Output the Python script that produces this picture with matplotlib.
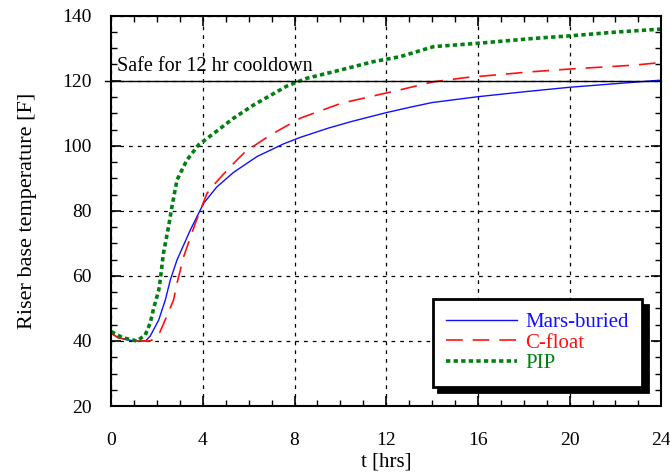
import numpy as np
import matplotlib
matplotlib.use("Agg")
import matplotlib.pyplot as plt

# tiempo (hrs) y temperatura (F)
t_mars = [0, 0.3, 0.7, 1.0, 1.5, 1.7, 2.07, 2.36, 2.58, 2.87, 3.45, 4.03, 4.6, 5.33,
          6.36, 7.52, 8.25, 9.5, 10.5, 12.0, 13.0, 14.0, 16.0, 18.0, 20.0, 22.0, 24.0]
T_mars = [42.4, 41.0, 40.4, 40.0, 40.0, 41.5, 46.4, 52.6, 58.8, 64.9, 74.1, 82.3, 87.3, 91.8,
          96.7, 100.6, 102.6, 105.5, 107.5, 110.2, 111.8, 113.3, 115.1, 116.6, 118.0, 119.1, 120.2]

t_cf = [0, 0.3, 0.7, 1.0, 1.66, 1.9, 2.11, 2.43, 2.72, 2.87, 3.16, 3.67, 4.18, 4.54, 5.2,
        5.85, 6.94, 8.25, 10.0, 11.6, 12.6, 14.07, 15.5, 18.4, 20.0, 22.8, 24.0]
T_cf = [42.4, 41.0, 40.4, 40.0, 40.0, 40.6, 42.5, 47.7, 52.6, 57.7, 65.9, 76.2, 85.4, 88.5, 93.6,
        98.2, 103.3, 108.5, 113.0, 115.6, 117.2, 119.7, 121.0, 122.8, 123.6, 124.8, 125.6]

t_pip = [0, 0.5, 1.12, 1.48, 1.7, 1.85, 2.07, 2.14, 2.28, 2.5, 2.65, 2.87, 3.3, 3.81,
         4.47, 5.34, 6.2, 7.67, 8.55, 10.0, 11.45, 12.6, 14.07, 15.97, 18.4, 20.0, 21.9, 23.8, 24.0]
T_pip = [42.9, 41.0, 40.0, 41.8, 45.5, 50.0, 55.5, 58.8, 67.0, 75.1, 81.3, 89.5, 95.6, 100.3,
         103.8, 108.5, 112.5, 118.4, 120.8, 123.3, 125.9, 127.4, 130.5, 131.5, 133.0, 133.8, 134.9, 135.8, 135.9]

plt.rcParams['font.family'] = ['Liberation Serif', 'DejaVu Serif']
plt.rcParams['font.size'] = 14

fig = plt.figure(figsize=(6.7, 4.76), dpi=100)
ax = fig.add_axes([0.166, 0.147, 0.821, 0.82])

ax.plot(t_mars, T_mars, color='#1010ff', lw=1.0, label='Mars-buried')
ax.plot(t_cf, T_cf, color='#ff1010', lw=1.2, dashes=(10, 6), label='C-float')
ax.plot(t_pip, T_pip, color='#008010', lw=2.6, dashes=(1.2, 0.9), label='PIP')

ax.axhline(120, color='black', lw=1.0, xmin=-0.012, xmax=1.0, clip_on=False)
ax.text(0.25, 121.5, 'Safe for 12 hr cooldown', fontsize=14.5, va='bottom')

ax.set_xlim(0, 24)
ax.set_ylim(20, 140)
ax.set_xticks(np.arange(0, 25, 4))
ax.set_yticks(np.arange(20, 141, 20))
ax.set_xticks(np.arange(0, 25, 1), minor=True)
ax.set_yticks(np.arange(20, 141, 5), minor=True)
ax.tick_params(which='both', direction='in', top=True, right=True)
ax.tick_params(which='major', length=7, width=1.2)
ax.tick_params(which='minor', length=4, width=1.0)
ax.tick_params(axis='x', which='major', pad=19)
ax.tick_params(axis='y', which='major', pad=14)
ax.grid(True, which='major', color='black', ls=(0, (3, 4)), lw=0.9)
for s in ax.spines.values():
    s.set_linewidth(1.5)

ax.set_xlabel('t [hrs]', fontsize=15, labelpad=2)
ax.set_ylabel('Riser base temperature [F]', fontsize=16, labelpad=18)

leg = ax.legend(loc='lower right', bbox_to_anchor=(0.9655, 0.049), fancybox=False,
                framealpha=1, edgecolor='black', labelcolor='linecolor', fontsize=15,
                shadow={'ox': 4, 'oy': -4, 'color': 'black', 'alpha': 1},
                handlelength=3.4, borderpad=0.65, labelspacing=0.05, handletextpad=0.4,
                borderaxespad=0)
leg.get_frame().set_linewidth(2)

fig.savefig('out.png', dpi=100)
